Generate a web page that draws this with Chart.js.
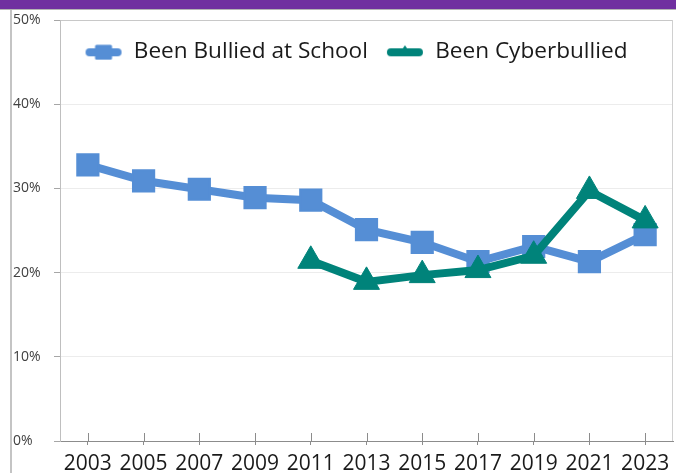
<!DOCTYPE html>
<html lang="en">

<head>
    <meta charset="UTF-8">
    <title>Bullying Trends</title>
    <script src="https://cdn.jsdelivr.net/npm/chart.js"></script>
    <style>
        * {
            margin: 0;
            padding: 0;
            box-sizing: border-box;
        }

        body {
            background-color: #fff;
            width: 676px;
            height: 473px;
            overflow: hidden;
        }

        .wrap {
            position: relative;
            width: 676px;
            height: 473px;
        }

        /* purple strip and frame edges around the chart */
        .topbar {
            position: absolute;
            left: 0;
            top: 0;
            width: 676px;
            height: 9px;
            background-color: #7030a0;
        }

        .topline {
            position: absolute;
            left: 0;
            top: 9px;
            width: 676px;
            height: 1px;
            background-color: #b4b4b4;
        }

        .leftline {
            position: absolute;
            left: 10px;
            top: 10px;
            width: 2px;
            height: 463px;
            background-color: #c4c4c4;
        }

        canvas {
            position: absolute;
            left: 0;
            top: 0;
        }
    </style>
</head>

<body>
    <div class="wrap">
        <canvas id="bullyChart" width="676" height="473"></canvas>
        <div class="topbar"></div>
        <div class="topline"></div>
        <div class="leftline"></div>
    </div>

    <script>
        const years = ['2003', '2005', '2007', '2009', '2011', '2013', '2015', '2017', '2019', '2021', '2023'];
        const bulliedAtSchool = [32.8, 30.9, 29.9, 28.9, 28.6, 25.1, 23.6, 21.3, 23.1, 21.3, 24.5];
        const cyberbullied = [null, null, null, null, 21.4, 18.9, 19.7, 20.3, 22.0, 29.7, 26.2];
        const yTicks = [0, 10, 20, 30, 40, 50];

        const BLUE = '#558ed5';
        const TEAL = '#00837a';
        const FONT = "'Open Sans', sans-serif";

        // legend swatch: short thick line with the marker in the middle
        function makeIcon(color, shape) {
            const c = document.createElement('canvas');
            c.width = 38;
            c.height = 18;
            const g = c.getContext('2d');
            g.strokeStyle = color;
            g.fillStyle = color;
            g.lineWidth = 8;
            g.lineCap = 'round';
            g.beginPath();
            g.moveTo(5, 10);
            g.lineTo(33, 10);
            g.stroke();
            if (shape === 'rect') {
                g.lineJoin = 'round';
                g.lineWidth = 3;
                g.strokeRect(12, 4, 14, 12);
                g.fillRect(12, 4, 14, 12);
            } else {
                g.beginPath();
                g.moveTo(19, 3);
                g.lineTo(26, 13);
                g.lineTo(12, 13);
                g.closePath();
                g.fill();
            }
            return c;
        }
        const legendIcons = [makeIcon(BLUE, 'rect'), makeIcon(TEAL, 'triangle')];

        // legend sits inside the plot: no layout height, no clipping, nudged right/down
        const legendInPlot = {
            id: 'legendInPlot',
            beforeInit(chart) {
                const legend = chart.legend;
                const fit = legend.fit;
                legend.fit = function () {
                    fit.call(this);
                    this.height = 0;
                };
                legend.draw = function () {
                    if (!this.options.display) return;
                    this.ctx.save();
                    this.ctx.translate(13, 2);
                    this._draw();
                    this.ctx.restore();
                };
            }
        };

        // right edge of the plot box and x tick marks reaching into the plot
        const frameBits = {
            id: 'frameBits',
            beforeDatasetsDraw(chart) {
                const { ctx, chartArea: a, scales: { x } } = chart;
                ctx.save();
                ctx.lineWidth = 1;
                ctx.strokeStyle = '#d0d0d0';
                ctx.beginPath();
                ctx.moveTo(a.right - 0.5, a.top);
                ctx.lineTo(a.right - 0.5, a.bottom);
                ctx.stroke();
                ctx.strokeStyle = '#8c8c8c';
                x.ticks.forEach((t, i) => {
                    const px = Math.round(x.getPixelForTick(i)) + 0.5;
                    ctx.beginPath();
                    ctx.moveTo(px, a.bottom - 8);
                    ctx.lineTo(px, a.bottom);
                    ctx.stroke();
                });
                ctx.restore();
            }
        };

        const ctx = document.getElementById('bullyChart').getContext('2d');
        const bullyChart = new Chart(ctx, {
            type: 'line',
            data: {
                labels: years,
                datasets: [{
                    label: 'Been Bullied at School',
                    data: bulliedAtSchool,
                    borderColor: BLUE,
                    backgroundColor: BLUE,
                    borderWidth: 8,
                    pointStyle: 'rect',
                    pointRadius: 15,
                    pointBorderWidth: 2,
                    tension: 0,
                    order: 1
                }, {
                    label: 'Been Cyberbullied',
                    data: cyberbullied,
                    borderColor: TEAL,
                    backgroundColor: TEAL,
                    borderWidth: 8,
                    pointStyle: 'triangle',
                    pointRadius: 15,
                    pointBorderWidth: 1,
                    tension: 0,
                    order: 0
                }]
            },
            options: {
                responsive: false,
                animation: false,
                layout: {
                    autoPadding: false,
                    padding: { left: 13, top: 20, right: 3, bottom: 0 }
                },
                plugins: {
                    tooltip: { enabled: false },
                    legend: {
                        position: 'top',
                        labels: {
                            usePointStyle: true,
                            pointStyleWidth: 38,
                            padding: 18,
                            color: '#1a1a1a',
                            font: { family: FONT, size: 22.6 },
                            generateLabels: chart => chart.data.datasets.map((ds, i) => ({
                                text: ds.label,
                                datasetIndex: i,
                                pointStyle: legendIcons[i],
                                fillStyle: ds.borderColor,
                                strokeStyle: ds.borderColor,
                                lineWidth: 0,
                                fontColor: '#1a1a1a',
                                hidden: false
                            }))
                        }
                    }
                },
                scales: {
                    x: {
                        offset: true,
                        grid: {
                            drawOnChartArea: false,
                            offset: false,
                            tickLength: 4,
                            tickColor: '#8c8c8c'
                        },
                        border: { color: '#8c8c8c' },
                        ticks: {
                            autoSkip: false,
                            maxRotation: 0,
                            padding: 6,
                            color: '#1a1a1a',
                            font: { family: FONT, size: 21 }
                        },
                        afterFit: scale => {
                            scale.height = 32;
                            scale.paddingLeft = 0;
                            scale.paddingRight = 0;
                        }
                    },
                    y: {
                        min: 0,
                        max: 50,
                        afterBuildTicks: scale => {
                            scale.ticks = yTicks.map(v => ({ value: v }));
                        },
                        grid: {
                            color: c => c.tick && c.tick.value === 50 ? '#c8c8c8' : '#ececec',
                            tickColor: '#a6a6a6',
                            tickLength: 6
                        },
                        border: { color: '#bfbfbf' },
                        ticks: {
                            crossAlign: 'far',
                            color: '#404040',
                            font: { family: FONT, size: 14 },
                            callback: v => v + '%'
                        },
                        afterFit: scale => { scale.width = 47; }
                    }
                }
            },
            plugins: [legendInPlot, frameBits]
        });
    </script>
</body>

</html>
